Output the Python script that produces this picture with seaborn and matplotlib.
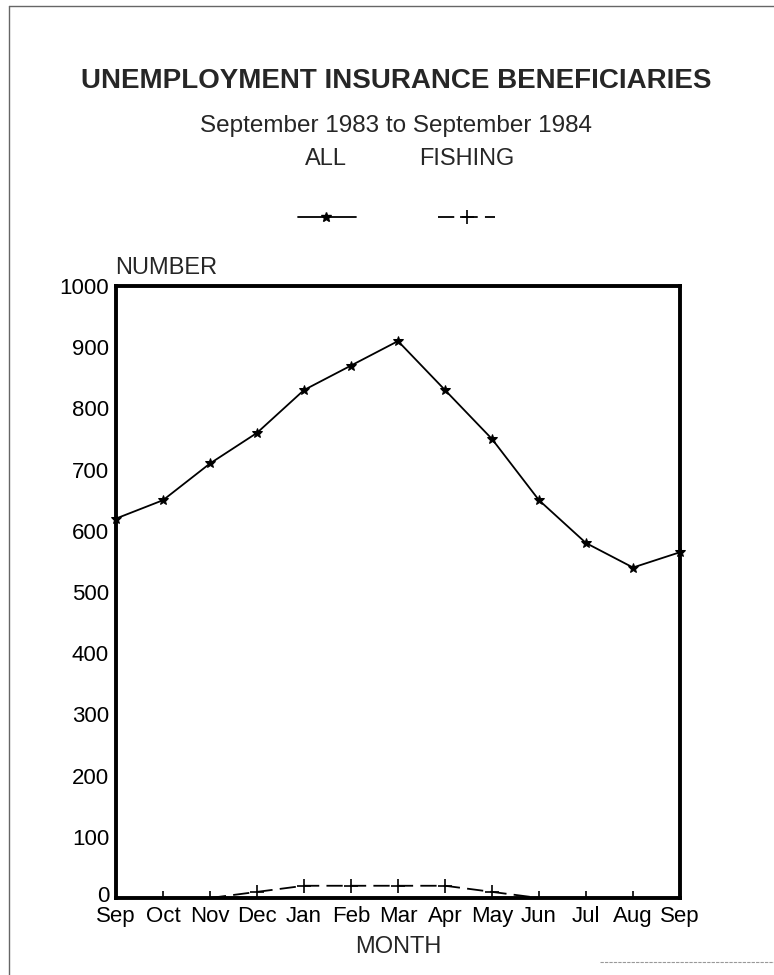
import matplotlib
matplotlib.use("Agg")
import matplotlib.pyplot as plt
from matplotlib.lines import Line2D
from matplotlib.ticker import MultipleLocator
from matplotlib.transforms import ScaledTranslation
import pandas as pd
import seaborn as sns

# Monthly unemployment insurance beneficiaries, Sep 1983 - Sep 1984
months = ["Sep", "Oct", "Nov", "Dec", "Jan", "Feb", "Mar",
          "Apr", "May", "Jun", "Jul", "Aug", "Sep"]
all_beneficiaries = [620, 650, 710, 760, 830, 870, 910, 830, 750, 650, 580, 540, 565]
fishing_beneficiaries = [0, 0, 0, 10, 20, 20, 20, 20, 10, 0, 0, 0, 0]
y_tick_values = [0, 100, 200, 300, 400, 500, 600, 700, 800, 900, 1000]

title = "UNEMPLOYMENT INSURANCE BENEFICIARIES"
subtitle = "September 1983 to September 1984"
series_names = ["ALL", "FISHING"]

sns.set_style("white")
plt.rcParams["font.family"] = ["Liberation Sans", "DejaVu Sans"]

W, H = 774, 975
fig = plt.figure(figsize=(W / 100, H / 100), dpi=100)


def fx(px):
    return px / W


def fy(py):
    return 1 - py / H


ax = fig.add_axes([fx(116), fy(898), fx(680) - fx(116), fy(286) - fy(898)])

df = pd.DataFrame({
    "pos": list(range(len(months))),
    "ALL": all_beneficiaries,
    "FISHING": fishing_beneficiaries,
})

sns.lineplot(data=df, x="pos", y="ALL", ax=ax, color="black", linewidth=1.3,
             marker="*", markersize=7, markeredgecolor="black",
             markerfacecolor="black", clip_on=False)
sns.lineplot(data=df, x="pos", y="FISHING", ax=ax, color="black", linewidth=1.3,
             marker="+", markersize=10, markeredgewidth=1.2,
             markeredgecolor="black")
ax.lines[-1].set_dashes((9, 4))

ax.set_xlim(0, len(months) - 1)
ax.set_ylim(0, 1000)
ax.set_xticks(range(len(months)), months)
ax.set_yticks(y_tick_values, [str(v) for v in y_tick_values])
ax.yaxis.set_minor_locator(MultipleLocator(50))
ax.tick_params(axis="both", which="both", direction="in", length=8, width=1.0,
               colors="black", labelsize=16)
ax.tick_params(axis="x", pad=6)
ax.tick_params(axis="y", pad=5)
ax.set_xlabel("")
ax.set_ylabel("")
for sp in ax.spines.values():
    sp.set_visible(True)
    sp.set_linewidth(2.8)
    sp.set_color("black")

# lift the "0" label slightly so it sits just above the first month name
zero_label = ax.get_yticklabels()[0]
zero_label.set_transform(zero_label.get_transform()
                         + ScaledTranslation(0, 3 / 72, fig.dpi_scale_trans))

# Headings
fig.text(fx(396), fy(81), title, ha="center", va="center", fontsize=20,
         fontweight="bold")
fig.text(fx(396), fy(126), subtitle, ha="center", va="center", fontsize=17.5)
fig.text(fx(326), fy(159), series_names[0], ha="center", va="center", fontsize=17)
fig.text(fx(467), fy(159), series_names[1], ha="center", va="center", fontsize=17)

# Legend samples under the series names
fig.add_artist(Line2D([fx(298), fx(356)], [fy(217), fy(217)], color="black",
                      linewidth=1.3, transform=fig.transFigure))
fig.add_artist(Line2D([fx(326)], [fy(217)], color="black", marker="*",
                      markersize=7, linestyle="none", transform=fig.transFigure))
fig.add_artist(Line2D([fx(438), fx(495)], [fy(217), fy(217)], color="black",
                      linewidth=1.3, dashes=(9, 4), transform=fig.transFigure))
fig.add_artist(Line2D([fx(467)], [fy(217)], color="black", marker="+",
                      markersize=10, markeredgewidth=1.2, linestyle="none",
                      transform=fig.transFigure))

# Axis captions
fig.text(fx(115), fy(268), "NUMBER", ha="left", va="center", fontsize=17)
fig.text(fx(398), fy(947), "MONTH", ha="center", va="center", fontsize=17)

# Page frame
fig.add_artist(Line2D([fx(9), fx(9)], [0, fy(6)], color="0.4", linewidth=1.0,
                      transform=fig.transFigure))
fig.add_artist(Line2D([fx(9), 1], [fy(6), fy(6)], color="0.4", linewidth=1.0,
                      transform=fig.transFigure))
fig.add_artist(Line2D([fx(600), 1], [fy(962), fy(962)], color="0.6", linewidth=0.8,
                      dashes=(3, 1), transform=fig.transFigure))

fig.savefig("out.png", dpi=100)
